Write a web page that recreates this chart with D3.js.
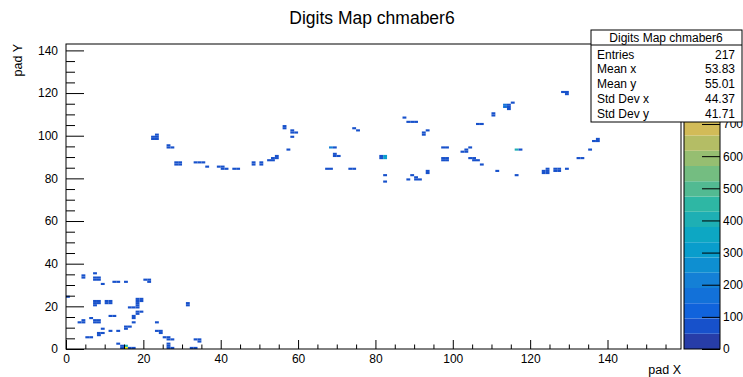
<!DOCTYPE html>
<html>
<head>
<meta charset="utf-8">
<script src="https://cdn.jsdelivr.net/npm/d3@7"></script>
<style>
  body { margin: 0; background: #fff; }
  svg { display: block; font-family: "Liberation Sans", Arial, Helvetica, sans-serif; }
</style>
</head>
<body>
<svg id="chart" width="743" height="377"></svg>
<script>
// Filled pad bins of chamber 6: pad X, pad Y and bin content
const binX = [
  4,4,7,7,8,7,8,9,12,13,15,0,7,8,7,8,7,10,11,10,11,16,17,18,11,12,4,4,3,6,7,8,7,8,9,11,13,15,15,16,
  8,9,8,5,6,13,14,14,15,15,16,17,20,21,21,18,19,18,19,18,18,19,18,18,17,17,17,23,23,24,24,25,26,26,27,
  26,26,26,27,31,31,33,34,34,32,33,
  22,23,22,23,23,26,26,27,28,29,28,29,33,34,35,36,39,40,40,41,43,44,48,48,50,50,52,53,53,54,54,
  56,56,58,58,59,58,57,87,88,89,90,74,75,93,92,92,110,110,106,107,68,69,69,69,70,81,81,82,82,
  67,68,73,74,82,82,89,88,90,90,91,93,93,97,98,97,98,97,98,102,103,103,104,104,105,105,106,107,111,116,
  116,117,113,113,114,114,114,115,128,129,129,123,124,123,124,124,126,127,126,127,129,132,133,135,136,137,137
];
const binY = [
  33,34,35,32,32,33,33,30,31,31,31,24,21,21,22,22,20,21,21,22,22,19,19,19,15,15,12,13,12,14,12,12,13,13,9,8,8,9,10,10,
  7,7,6,5,5,2,0,1,0,1,0,0,32,31,32,22,22,23,23,20,21,17,16,17,15,14,12,12,8,8,7,5,5,4,4,
  1,2,0,0,20,21,4,4,3,0,0,
  98,98,99,99,100,94,95,94,86,86,87,87,87,87,87,85,85,85,84,84,84,84,86,87,86,87,88,88,89,89,90,
  103,104,102,101,101,99,93,108,106,106,106,103,102,102,100,101,109,110,105,105,94,94,91,90,90,89,90,89,90,
  84,84,84,84,81,78,81,79,80,79,79,82,83,94,94,88,88,89,89,92,92,93,94,89,89,88,88,86,83,81,
  93,93,113,114,112,113,114,115,120,120,119,82,82,83,83,84,83,83,84,84,84,89,89,93,97,97,98
];
const binZ = [
  70,70,70,70,70,70,70,70,70,70,70,70,70,70,70,70,70,70,70,70,70,70,70,70,70,70,70,70,70,70,70,70,70,70,70,70,70,70,70,70,
  70,70,70,70,70,70,70,70,949,420,70,70,70,70,70,70,70,70,70,70,70,70,70,70,70,70,70,70,70,70,70,70,70,70,70,
  70,70,70,70,70,70,70,70,70,70,70,
  70,70,70,70,70,70,70,70,70,70,70,70,70,70,70,70,70,70,70,70,70,70,70,70,70,70,70,70,70,70,70,
  70,70,70,70,70,70,70,70,70,70,70,70,70,70,70,70,70,70,70,70,200,70,70,70,70,70,70,320,320,
  70,70,70,70,70,70,70,70,70,70,70,70,70,70,70,70,70,70,70,70,70,70,70,70,70,70,70,70,70,70,
  400,70,150,150,70,70,70,70,70,70,70,70,70,70,70,70,70,70,70,70,70,70,70,70,70,70,70
];

const xTicks = [0, 20, 40, 60, 80, 100, 120, 140];
const yTicks = [0, 20, 40, 60, 80, 100, 120, 140];
const zTicks = [0, 100, 200, 300, 400, 500, 600, 700];

const histTitle = "Digits Map chmaber6";
const xTitle = "pad X";
const yTitle = "pad Y";
const statNames = ["Entries", "Mean x", "Mean y", "Std Dev x", "Std Dev y"];
const statValues = ["217", "53.83", "55.01", "44.37", "41.71"];

// axis ranges of the histogram
const xMax = 159, yMax = 143;
const nContours = 20;

// ROOT kBird palette stops
const birdStops = [0.0, 0.125, 0.25, 0.375, 0.5, 0.625, 0.75, 0.875, 1.0];
const birdR = [0.2082, 0.0592, 0.0780, 0.0232, 0.1802, 0.5301, 0.8186, 0.9956, 0.9764];
const birdG = [0.1664, 0.3599, 0.5041, 0.6419, 0.7178, 0.7492, 0.7328, 0.7862, 0.9832];
const birdB = [0.5293, 0.8684, 0.8385, 0.7914, 0.6425, 0.4662, 0.3499, 0.1968, 0.0539];

const svg = d3.select("#chart");
const frame = { left: 66, right: 681, top: 44, bottom: 349 };
const pal = { left: 684, right: 720 };

const x = d3.scaleLinear().domain([0, xMax]).range([frame.left, frame.right]);
const y = d3.scaleLinear().domain([0, yMax]).range([frame.bottom, frame.top]);
const zMax = d3.max(binZ);
const z = d3.scaleLinear().domain([0, zMax]).range([frame.bottom, frame.top]);

const grad = d3.scaleLinear()
  .domain(birdStops)
  .range(birdStops.map((s, i) => d3.rgb(birdR[i] * 255, birdG[i] * 255, birdB[i] * 255).toString()))
  .interpolate(d3.interpolateRgb);
const nColors = 255;
const contourOf = v => Math.min(nContours - 1, Math.floor(0.01 + v * nContours / zMax));
const contourColor = k => grad(Math.floor((k + 0.99) * nColors / nContours) / (nColors - 1));

svg.append("rect").attr("width", 743).attr("height", 377).attr("fill", "#fff");

// title
svg.append("text")
  .attr("x", 372).attr("y", 24)
  .attr("text-anchor", "middle")
  .attr("font-size", 17.5)
  .text(histTitle);

// bins
const bins = binX.map((bx, i) => ({ x: bx, y: binY[i], v: binZ[i] }));
svg.append("g").selectAll("rect").data(bins).join("rect")
  .attr("x", d => x(d.x))
  .attr("y", d => y(d.y + 1))
  .attr("width", d => x(d.x + 1) - x(d.x))
  .attr("height", d => y(d.y) - y(d.y + 1))
  .attr("fill", d => contourColor(contourOf(d.v)));

// frame
svg.append("rect")
  .attr("x", frame.left).attr("y", frame.top)
  .attr("width", frame.right - frame.left).attr("height", frame.bottom - frame.top)
  .attr("fill", "none").attr("stroke", "#000").attr("stroke-width", 1);

const styleAxis = g => {
  g.select(".domain").remove();
  g.selectAll("line").attr("stroke", "#000");
  g.selectAll("text").attr("font-size", 12).attr("fill", "#000")
    .attr("font-family", "'Liberation Sans', Arial, Helvetica, sans-serif");
};

// x axis: major and minor ticks pointing into the frame
const xMinor = d3.range(0, xMax + 0.001, 5).filter(v => v % 20 !== 0);
svg.append("g").attr("transform", `translate(0,${frame.bottom})`)
  .call(d3.axisBottom(x).tickValues(xMinor).tickSize(-4.5).tickFormat(""))
  .call(styleAxis);
svg.append("g").attr("transform", `translate(0,${frame.bottom})`)
  .call(d3.axisBottom(x).tickValues(xTicks).tickSize(-9).tickPadding(5).tickFormat(d3.format("d")))
  .call(styleAxis);

// y axis
const yMinor = d3.range(0, yMax + 0.001, 5).filter(v => v % 20 !== 0);
svg.append("g").attr("transform", `translate(${frame.left},0)`)
  .call(d3.axisLeft(y).tickValues(yMinor).tickSize(-9).tickFormat(""))
  .call(styleAxis);
svg.append("g").attr("transform", `translate(${frame.left},0)`)
  .call(d3.axisLeft(y).tickValues(yTicks).tickSize(-18).tickPadding(8).tickFormat(d3.format("d")))
  .call(styleAxis);

// axis titles
svg.append("text")
  .attr("x", frame.right).attr("y", 374)
  .attr("text-anchor", "end").attr("font-size", 12.5)
  .text(xTitle);
svg.append("text")
  .attr("transform", `translate(22,${frame.top}) rotate(-90)`)
  .attr("text-anchor", "end").attr("font-size", 12.5)
  .text(yTitle);

// colour palette
const bands = d3.range(nContours).map(k => k);
svg.append("g").selectAll("rect").data(bands).join("rect")
  .attr("x", pal.left)
  .attr("width", pal.right - pal.left)
  .attr("y", k => z((k + 1) * zMax / nContours))
  .attr("height", k => z(k * zMax / nContours) - z((k + 1) * zMax / nContours))
  .attr("fill", k => contourColor(k));
svg.append("rect")
  .attr("x", pal.left).attr("y", frame.top)
  .attr("width", pal.right - pal.left).attr("height", frame.bottom - frame.top)
  .attr("fill", "none").attr("stroke", "#000").attr("stroke-width", 1);
svg.append("g").attr("transform", `translate(${pal.right},0)`)
  .call(d3.axisRight(z).tickValues(zTicks).tickSize(-18).tickPadding(3).tickFormat(d3.format("d")))
  .call(styleAxis);

// statistics box
const stats = svg.append("g");
stats.append("rect")
  .attr("x", 591).attr("y", 30).attr("width", 151).attr("height", 92)
  .attr("fill", "#fff").attr("stroke", "#000").attr("stroke-width", 1);
stats.append("line")
  .attr("x1", 591).attr("x2", 742).attr("y1", 45).attr("y2", 45)
  .attr("stroke", "#000");
stats.append("text")
  .attr("x", 666).attr("y", 42).attr("text-anchor", "middle").attr("font-size", 12)
  .text(histTitle);
statNames.forEach((name, i) => {
  const by = 58.5 + i * 14.8;
  stats.append("text").attr("x", 597).attr("y", by).attr("font-size", 12).text(name);
  stats.append("text").attr("x", 735).attr("y", by).attr("text-anchor", "end").attr("font-size", 12).text(statValues[i]);
});
</script>
</body>
</html>
